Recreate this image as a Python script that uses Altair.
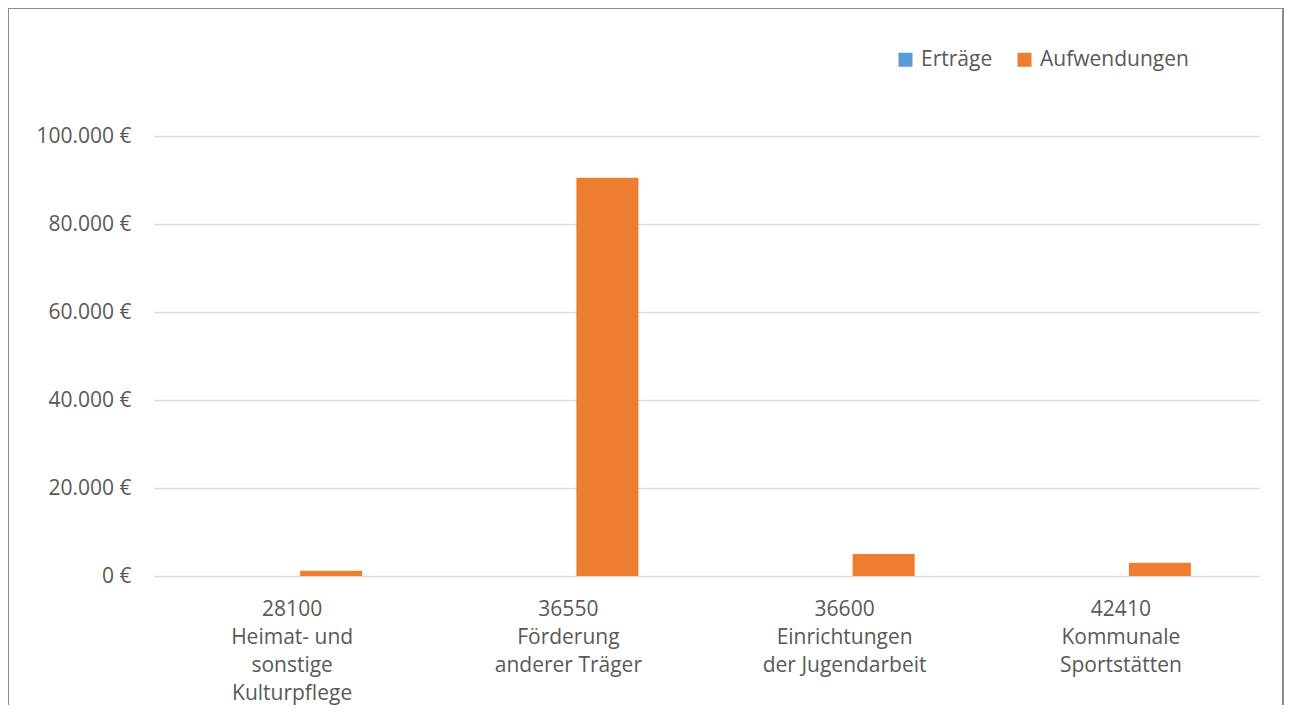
import altair as alt
import pandas as pd

categories = [
    "28100|Heimat- und|sonstige|Kulturpflege",
    "36550|Förderung|anderer Träger",
    "36600|Einrichtungen|der Jugendarbeit",
    "42410|Kommunale|Sportstätten",
]
series = ["Erträge", "Aufwendungen"]
ertraege = [0, 0, 0, 0]
aufwendungen = [1200, 90500, 5000, 3000]
y_ticks = [0, 20000, 40000, 60000, 80000, 100000]
colors = ["#5B9BD5", "#ED7D31"]

rows = []
for c, e, a in zip(categories, ertraege, aufwendungen):
    rows.append({"Kategorie": c, "Serie": series[0], "Wert": e})
    rows.append({"Kategorie": c, "Serie": series[1], "Wert": a})
df = pd.DataFrame(rows)

FONT = "Open Sans"
TXT = "#595959"
FS = 21

bars = alt.Chart(df).mark_bar().encode(
    x=alt.X(
        "Kategorie:N",
        sort=categories,
        scale=alt.Scale(paddingInner=0.493, paddingOuter=0.2465),
        axis=alt.Axis(
            title=None,
            labelAngle=0,
            labelExpr="split(datum.label, '|')",
            labelFont=FONT,
            labelFontSize=FS,
            labelColor=TXT,
            labelLineHeight=28,
            labelBaseline="top",
            labelPadding=22,
            ticks=False,
            domain=False,
            grid=False,
        ),
    ),
    xOffset=alt.XOffset(
        "Serie:N", sort=series, scale=alt.Scale(paddingInner=0.205, paddingOuter=0)
    ),
    y=alt.Y(
        "Wert:Q",
        scale=alt.Scale(domain=[0, 100000]),
        axis=alt.Axis(
            title=None,
            values=y_ticks,
            labelExpr="replace(format(datum.value, ',.0f'), ',', '.') + ' €'",
            labelFont=FONT,
            labelFontSize=FS,
            labelColor=TXT,
            labelPadding=23,
            ticks=False,
            tickSize=0,
            domain=False,
            grid=True,
            gridColor="#D9D9D9",
            gridWidth=1.3,
        ),
    ),
    color=alt.Color(
        "Serie:N",
        sort=series,
        scale=alt.Scale(domain=series, range=colors),
        legend=alt.Legend(
            title=None,
            orient="none",
            direction="horizontal",
            legendX=741,
            legendY=-87,
            symbolType="square",
            symbolSize=196,
            symbolStrokeWidth=0,
            symbolOpacity=1,
            labelFont=FONT,
            labelFontSize=FS,
            labelColor=TXT,
            labelOffset=5,
            columnPadding=21,
            padding=0,
        ),
    ),
)

frame = alt.Chart(pd.DataFrame({"a": [0]})).mark_rect(
    fill=None, stroke="#8C8C8C", strokeWidth=2
).encode(
    x=alt.value(-146),
    x2=alt.value(1129),
    y=alt.value(-128),
    y2=alt.value(640),
)

chart = alt.layer(bars, frame).properties(
    width=1105,
    height=440,
    autosize=alt.AutoSizeParams(type="none"),
    padding={"left": 146, "top": 128, "right": 26, "bottom": 129},
    background="white",
).configure_view(stroke=None)

chart.save("out.html", embed_options={"renderer": "svg", "actions": False})
